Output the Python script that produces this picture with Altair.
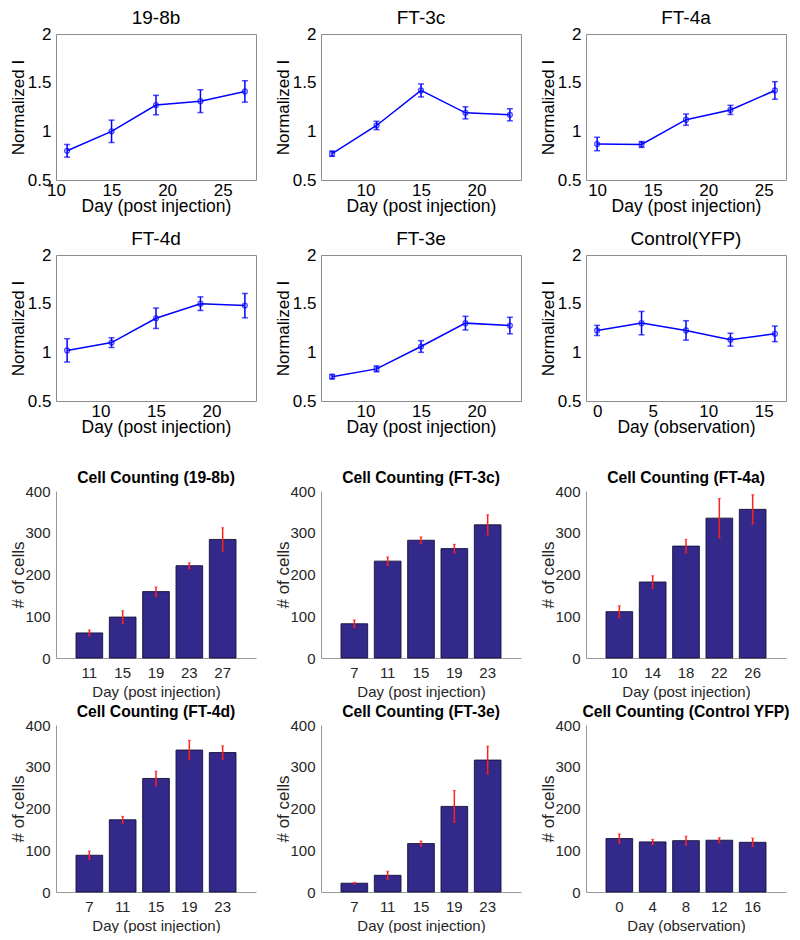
import altair as alt
import pandas as pd

# ---------------- line panels (Normalized I) ----------------
line_titles = ["19-8b", "FT-3c", "FT-4a", "FT-4d", "FT-3e", "Control(YFP)"]
line_xtitles = ["Day (post injection)"] * 5 + ["Day (observation)"]

days_198b = [11, 15, 19, 23, 27]
days_ft3c = [7, 11, 15, 19, 23]
days_ft4a = [10, 14, 18, 22, 26]
days_ft4d = [7, 11, 15, 19, 23]
days_ft3e = [7, 11, 15, 19, 23]
days_ctrl = [0, 4, 8, 12, 16]

norm_198b = [0.80, 1.00, 1.27, 1.31, 1.41]
norm_ft3c = [0.77, 1.06, 1.42, 1.19, 1.17]
norm_ft4a = [0.87, 0.865, 1.12, 1.22, 1.42]
norm_ft4d = [1.02, 1.10, 1.35, 1.50, 1.48]
norm_ft3e = [0.75, 0.83, 1.06, 1.30, 1.275]
norm_ctrl = [1.225, 1.30, 1.225, 1.13, 1.19]

err_198b = [0.065, 0.115, 0.10, 0.117, 0.11]
err_ft3c = [0.027, 0.043, 0.067, 0.062, 0.062]
err_ft4a = [0.069, 0.03, 0.058, 0.047, 0.09]
err_ft4d = [0.12, 0.05, 0.105, 0.07, 0.125]
err_ft3e = [0.022, 0.03, 0.06, 0.07, 0.085]
err_ctrl = [0.052, 0.12, 0.10, 0.066, 0.08]

x_domains = [[10, 28], [6, 24], [9, 27], [6, 24], [6, 24], [-1, 17]]
x_ticks = [[10, 15, 20, 25], [10, 15, 20], [10, 15, 20, 25], [10, 15, 20], [10, 15, 20], [0, 5, 10, 15]]
y_ticks_line = [0.5, 1, 1.5, 2]

# ---------------- bar panels (cell counting) ----------------
bar_titles = ["Cell Counting (19-8b)", "Cell Counting (FT-3c)", "Cell Counting (FT-4a)",
              "Cell Counting (FT-4d)", "Cell Counting (FT-3e)", "Cell Counting (Control YFP)"]
bar_xtitles = ["Day (post injection)"] * 5 + ["Day (observation)"]

cells_198b = [60, 98, 159, 221, 284]
cells_ft3c = [82, 232, 282, 262, 319]
cells_ft4a = [111, 182, 268, 335, 356]
cells_ft4d = [88, 173, 272, 340, 334]
cells_ft3e = [21, 40, 116, 205, 316]
cells_ctrl = [128, 120, 123, 124, 119]

cerr_198b = [7, 15, 11, 7, 28]
cerr_ft3c = [9, 10, 8, 10, 24]
cerr_ft4a = [14, 15, 16, 47, 35]
cerr_ft4d = [10, 8, 17, 23, 16]
cerr_ft3e = [2, 9.5, 6, 38, 33]
cerr_ctrl = [11, 6, 10.5, 6, 10]
y_ticks_bar = [0, 100, 200, 300, 400]

all_days = [days_198b, days_ft3c, days_ft4a, days_ft4d, days_ft3e, days_ctrl]
all_norm = [norm_198b, norm_ft3c, norm_ft4a, norm_ft4d, norm_ft3e, norm_ctrl]
all_err = [err_198b, err_ft3c, err_ft4a, err_ft4d, err_ft3e, err_ctrl]
all_cells = [cells_198b, cells_ft3c, cells_ft4a, cells_ft4d, cells_ft3e, cells_ctrl]
all_cerr = [cerr_198b, cerr_ft3c, cerr_ft4a, cerr_ft4d, cerr_ft3e, cerr_ctrl]

FONT = "Liberation Sans"
BLUE = "#0000ff"
W = 200
TITLE_X = -29


def line_panel(i):
    df = pd.DataFrame({"day": all_days[i], "v": all_norm[i]})
    df["lo"] = df["v"] - pd.Series(all_err[i])
    df["hi"] = df["v"] + pd.Series(all_err[i])
    x = alt.X("day:Q", scale=alt.Scale(domain=x_domains[i], nice=False, zero=False),
              axis=alt.Axis(values=x_ticks[i], title=line_xtitles[i], grid=False, ticks=False,
                            domain=False, labelFlush=False, labelOverlap=False,
                            labelFontSize=17, titleFontSize=17.5, labelPadding=2, titlePadding=-1,
                            labelColor="black", titleColor="black", titleFontWeight="normal",
                            labelFont=FONT, titleFont=FONT))
    y_axis = alt.Axis(values=y_ticks_line, title="Normalized I", grid=False, ticks=False,
                      domain=False, labelOverlap=False, labelExpr="'' + datum.value",
                      labelFontSize=17, titleFontSize=17, labelPadding=5, titleX=TITLE_X,
                      labelColor="black", titleColor="black", titleFontWeight="normal",
                      labelFont=FONT, titleFont=FONT)
    yscale = alt.Scale(domain=[0.5, 2], nice=False, zero=False)
    base = alt.Chart(df)
    line = base.mark_line(color=BLUE, strokeWidth=1.5).encode(
        x=x, y=alt.Y("v:Q", scale=yscale, axis=y_axis))
    pts = base.mark_point(shape="circle", filled=False, size=24, color=BLUE, strokeWidth=1.3).encode(
        x="day:Q", y="v:Q")
    rule = base.mark_rule(color=BLUE, strokeWidth=1.5).encode(x="day:Q", y="lo:Q", y2="hi:Q")
    cap1 = base.mark_tick(color=BLUE, orient="horizontal", size=6, thickness=1.5).encode(x="day:Q", y="lo:Q")
    cap2 = base.mark_tick(color=BLUE, orient="horizontal", size=6, thickness=1.5).encode(x="day:Q", y="hi:Q")
    return alt.layer(line, rule, cap1, cap2, pts).properties(
        width=W, height=146,
        view=alt.ViewBackground(stroke="#8c8c8c", strokeWidth=1),
        title=alt.TitleParams(line_titles[i], fontSize=19, fontWeight="normal", font=FONT,
                              color="black", offset=-3))


def bar_panel(i):
    df = pd.DataFrame({"day": all_days[i], "c": all_cells[i]})
    df["lo"] = df["c"] - pd.Series(all_cerr[i])
    df["hi"] = df["c"] + pd.Series(all_cerr[i])
    x = alt.X("day:O", scale=alt.Scale(paddingInner=0.2, paddingOuter=0.6),
              axis=alt.Axis(title=bar_xtitles[i], labelAngle=0, ticks=False, domainColor="#999999",
                            labelFontSize=15, titleFontSize=15, labelPadding=7, titlePadding=4,
                            labelColor="#262626", titleColor="#262626", titleFontWeight="normal",
                            labelFont=FONT, titleFont=FONT))
    y_axis = alt.Axis(values=y_ticks_bar, title="# of cells", grid=False, ticks=False,
                      domainColor="#999999", labelOverlap=False,
                      labelFontSize=15, titleFontSize=17, labelPadding=6, titleX=TITLE_X,
                      labelColor="#262626", titleColor="#262626", titleFontWeight="normal",
                      labelFont=FONT, titleFont=FONT)
    yscale = alt.Scale(domain=[0, 400], nice=False)
    base = alt.Chart(df)
    bars = base.mark_bar(fill="#32298a", stroke="#14123a", strokeWidth=0.9).encode(
        x=x, y=alt.Y("c:Q", scale=yscale, axis=y_axis))
    rule = base.mark_rule(color="#ff2020", strokeWidth=1.5).encode(x="day:O", y="lo:Q", y2="hi:Q")
    cap1 = base.mark_tick(color="#ff2020", orient="horizontal", size=3, thickness=1.2).encode(x="day:O", y="lo:Q")
    cap2 = base.mark_tick(color="#ff2020", orient="horizontal", size=3, thickness=1.2).encode(x="day:O", y="hi:Q")
    return alt.layer(bars, rule, cap1, cap2).properties(
        width=W, height=167,
        title=alt.TitleParams(bar_titles[i], fontSize=15.7, fontWeight="bold", font=FONT,
                              color="black", offset=-3))


def row(panels):
    return alt.hconcat(*panels, spacing=65, bounds="flush")


top = alt.vconcat(row([line_panel(0), line_panel(1), line_panel(2)]),
                  row([line_panel(3), line_panel(4), line_panel(5)]), spacing=14)
bottom = alt.vconcat(row([bar_panel(0), bar_panel(1), bar_panel(2)]),
                     row([bar_panel(3), bar_panel(4), bar_panel(5)]), spacing=5)

chart = alt.vconcat(top, bottom, spacing=34).configure_view(stroke=None).properties(
    padding={"left": 0, "top": 0, "right": 0, "bottom": 0})

chart.save("out.html", embed_options={"renderer": "svg", "actions": False})
